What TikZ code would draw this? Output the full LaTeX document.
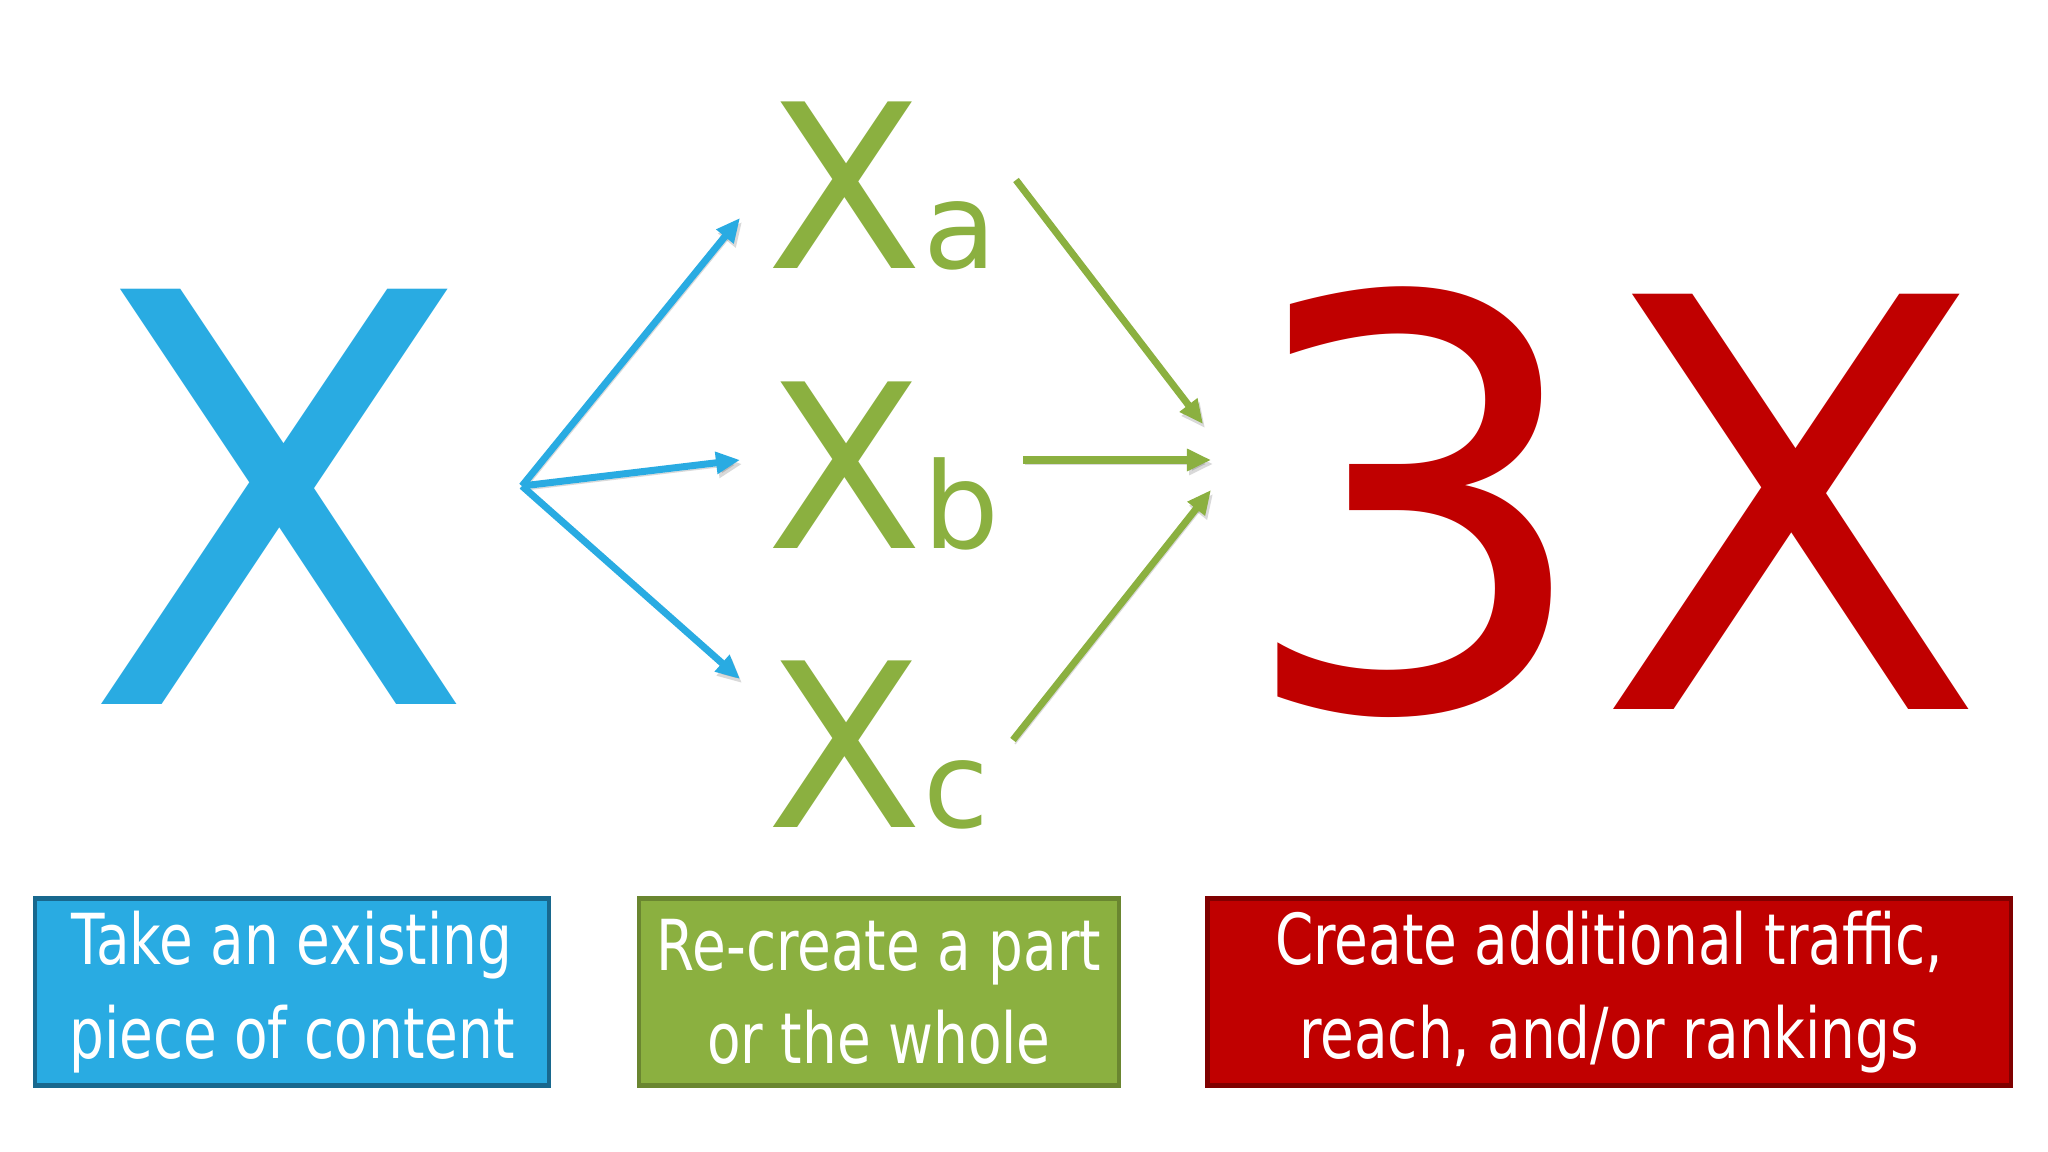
\documentclass[tikz,border=0pt]{standalone}
\usepackage{fontspec}
\setmainfont{DejaVu Sans}
\newfontfamily\boxfont[FakeStretch=0.78]{DejaVu Sans}
\usetikzlibrary{arrows.meta}
\definecolor{xblue}{RGB}{41,171,226}
\definecolor{xgreen}{RGB}{139,176,64}
\definecolor{xred}{RGB}{192,0,0}
\definecolor{xblueline}{RGB}{24,104,142}
\definecolor{xgreenline}{RGB}{106,134,48}
\definecolor{xredline}{RGB}{128,0,0}
\newcommand\subsize{\fontsize{34}{34}\selectfont}

\begin{document}
\begin{tikzpicture}[x=0.01cm,y=-0.01cm,
  bigletter/.style={inner sep=0,anchor=base,font=\fontsize{162}{162}\selectfont},
  partletter/.style={inner sep=0,anchor=base west,text=xgreen,font=\fontsize{65}{65}\selectfont},
  tag/.style={draw,line width=0.045cm,minimum width=#1,minimum height=1.87cm,
    text=white,align=center,font=\boxfont\fontsize{20}{26.5}\selectfont},
  link/.style={line width=0.07cm,-{Triangle[length=0.24cm,width=0.21cm]},
    preaction={draw=black,opacity=0.15,transform canvas={shift={(0.02cm,-0.04cm)}}}}]
  \fill[white] (0,0) rectangle (2048,1152);

  \node[bigletter,text=xblue] (x) at (280,705) {X};
  \node[partletter] (xa) at (766,269) {X\subsize a};
  \node[partletter] (xb) at (766,549) {X\subsize b};
  \node[partletter] (xc) at (766,827) {X\subsize c};
  \node[bigletter,text=xred] (threex) at (1611,709) {3X};

  % arrow ends
  \coordinate (split) at (522,486);
  \coordinate (toa) at (740,218);
  \coordinate (tob) at (740,460);
  \coordinate (toc) at (740,679);
  \coordinate (froma) at (1016,180);
  \coordinate (fromb) at (1023,460);
  \coordinate (fromc) at (1013,740);
  \coordinate (ina) at (1203,424);
  \coordinate (inb) at (1211,460);
  \coordinate (inc) at (1211,490);

  \foreach \n in {a,b,c} {
    \draw[link,xblue] (split) -- (to\n);
    \draw[link,xgreen] (from\n) -- (in\n);
  }

  \node[tag=5.14cm,fill=xblue,draw=xblueline] (take) at (292,992) {Take an existing\\piece of content};
  \node[tag=4.80cm,fill=xgreen,draw=xgreenline] (recreate) at (879,992) {Re-create a part\\or the whole};
  \node[tag=8.03cm,fill=xred,draw=xredline] (create) at (1609,992) {Create additional traffic,\\reach, and/or rankings};
\end{tikzpicture}
\end{document}
